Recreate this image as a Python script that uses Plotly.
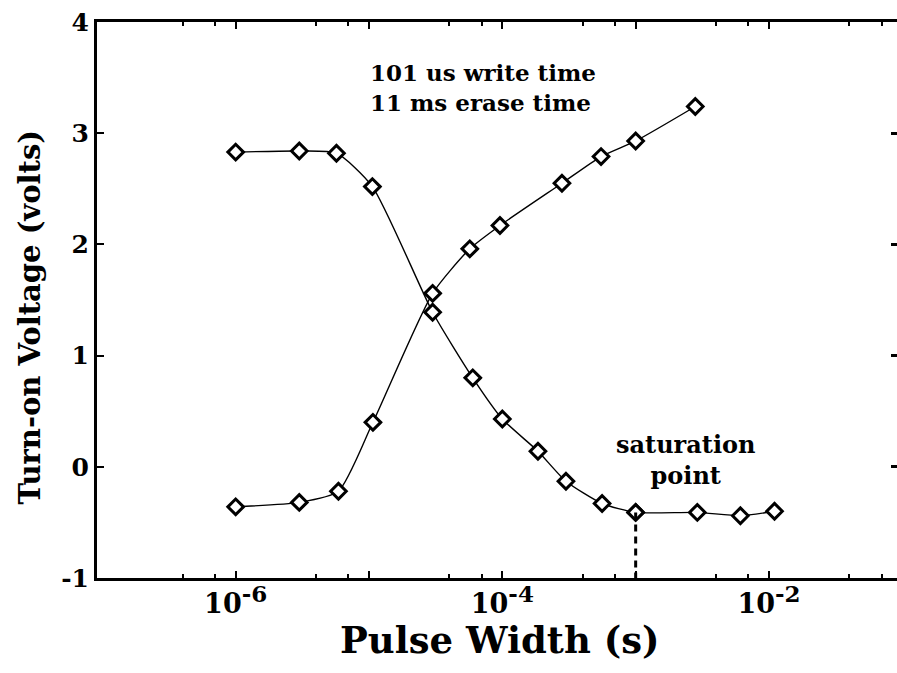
import plotly.graph_objects as go

# Erase curve (decreasing) and write curve (increasing)
erase_x = [1.0e-6, 3.0e-6, 5.7e-6, 1.06e-5, 3.0e-5, 6.0e-5, 1.0e-4, 1.85e-4, 3.0e-4, 5.6e-4, 1.0e-3, 2.9e-3, 6.1e-3, 1.1e-2]
erase_y = [2.83, 2.84, 2.82, 2.52, 1.39, 0.80, 0.43, 0.14, -0.13, -0.33, -0.41, -0.41, -0.44, -0.40]

write_x = [1.0e-6, 3.0e-6, 5.9e-6, 1.07e-5, 3.0e-5, 5.7e-5, 9.6e-5, 2.8e-4, 5.5e-4, 1.0e-3, 2.8e-3]
write_y = [-0.36, -0.32, -0.22, 0.40, 1.56, 1.96, 2.17, 2.55, 2.79, 2.93, 3.24]

sat_index = 10  # saturation point on erase curve

x_major = [1e-6, 1e-5, 1e-4, 1e-3, 1e-2]
SUP = "<sup><span style='font-size:23px'>{}</span></sup>"
x_major_text = ["10" + SUP.format("-6"), "", "10" + SUP.format("-4"), "", "10" + SUP.format("-2")]
x_minor = [m * 10.0 ** e for e in range(-7, -1) for m in (4, 7)]
y_ticks = [-1, 0, 1, 2, 3, 4]
y_tick_text = ["-1", "0", "1", "2", "3", "4"]
y_range = [-1, 4]

FONT = "DejaVu Serif"

fig = go.Figure()

marker = dict(symbol="diamond", size=12, color="white", line=dict(color="black", width=3))
line = dict(color="black", width=1.4, shape="spline", smoothing=0.6)

fig.add_trace(go.Scatter(x=erase_x, y=erase_y, mode="lines+markers", line=line, marker=marker))
fig.add_trace(go.Scatter(x=write_x, y=write_y, mode="lines+markers", line=line, marker=marker))

# dashed drop line from saturation point to the x axis
fig.add_trace(go.Scatter(x=[erase_x[sat_index], erase_x[sat_index]],
                         y=[erase_y[sat_index], y_range[0]],
                         mode="lines", line=dict(color="black", width=3, dash="7px,5px"),
                         yaxis="y2"))
# re-draw marker on top
fig.add_trace(go.Scatter(x=[erase_x[sat_index]], y=[erase_y[sat_index]], mode="markers", marker=marker))

fig.update_layout(
    width=897, height=673,
    margin=dict(l=97, r=0, t=22, b=95),
    plot_bgcolor="white", paper_bgcolor="white",
    showlegend=False,
    font=dict(family=FONT, color="black"),
    xaxis=dict(
        type="log", range=[-7.04, -1.04],
        showline=True, linecolor="black", linewidth=3, mirror="ticks",
        ticks="inside", ticklen=7, tickwidth=2, tickcolor="black",
        tickmode="array", tickvals=x_major, ticktext=x_major_text,
        tickfont=dict(family=FONT, size=27, color="black", weight="bold"),
        minor=dict(tickmode="array", tickvals=x_minor, ticks="inside", ticklen=4, tickwidth=2, tickcolor="black", showgrid=False),
        showgrid=False, zeroline=False,
    ),
    yaxis=dict(
        range=y_range,
        showline=True, linecolor="black", linewidth=3, mirror=False,
        ticks="inside", ticklen=7, tickwidth=2, tickcolor="black",
        tickmode="array", tickvals=y_ticks, ticktext=y_tick_text,
        tickfont=dict(family=FONT, size=25, color="black", weight="bold"),
        showgrid=False, zeroline=False,
    ),
    yaxis2=dict(
        range=y_range, overlaying="y", side="right",
        showline=False, ticks="inside", ticklen=6, tickwidth=3, tickcolor="black",
        tickmode="array", tickvals=y_ticks[1:-1], showticklabels=False,
        showgrid=False, zeroline=False,
    ),
)

fig.add_annotation(text="101 us write time<br>11 ms erase time", xref="x", yref="y",
                   x=-5.01, y=3.41, xanchor="left", yanchor="middle", align="left", showarrow=False,
                   font=dict(family=FONT, size=23, color="black", weight="bold"))
fig.add_annotation(text="saturation<br>point", xref="x", yref="y",
                   x=-2.628, y=0.06, xanchor="center", yanchor="middle", align="center", showarrow=False,
                   font=dict(family=FONT, size=24, color="black", weight="bold"))

# axis titles
fig.add_annotation(text="Turn-on Voltage (volts)", xref="paper", yref="paper",
                   x=-0.084, y=0.47, xanchor="center", yanchor="middle", textangle=-90, showarrow=False,
                   font=dict(family=FONT, size=29, color="black", weight="bold"))
fig.add_annotation(text="Pulse Width (s)", xref="paper", yref="paper",
                   x=0.504, y=-0.112, xanchor="center", yanchor="middle", showarrow=False,
                   font=dict(family=FONT, size=37, color="black", weight="bold"))

fig.write_html("out.html")
